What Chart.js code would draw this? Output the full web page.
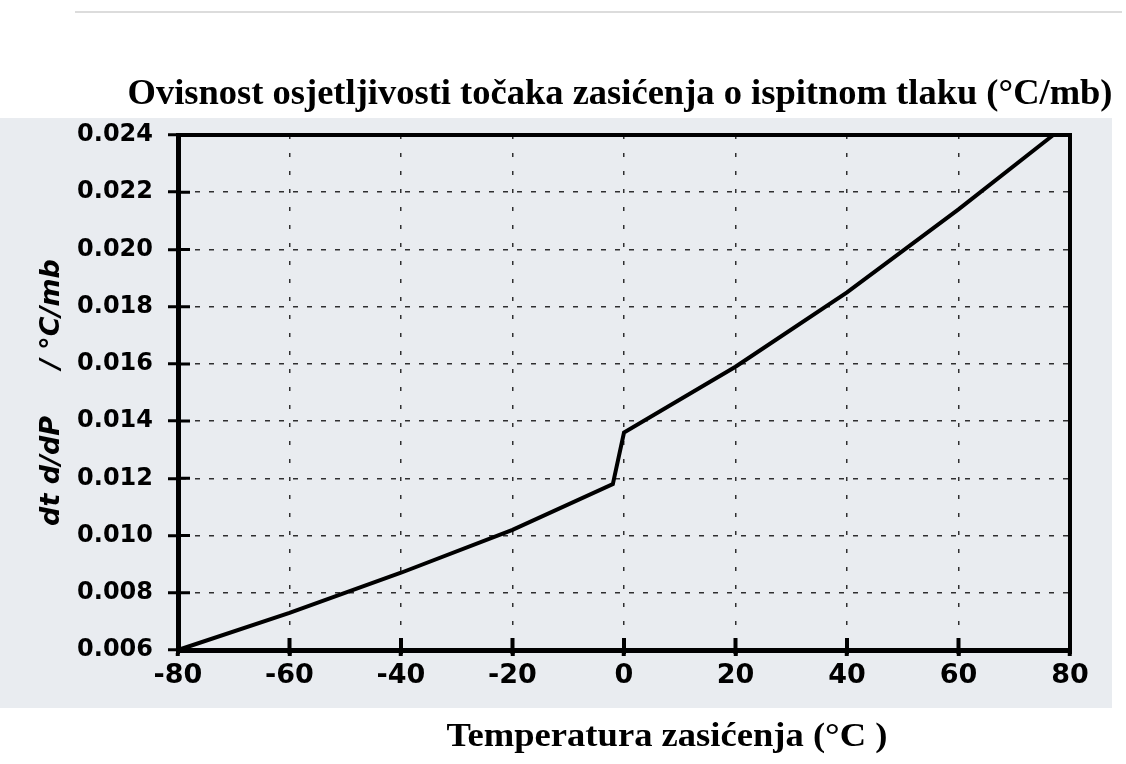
<!DOCTYPE html>
<html>
<head>
<meta charset="utf-8">
<script src="https://cdn.jsdelivr.net/npm/chart.js@4.4.1/dist/chart.umd.min.js"></script>
<style>
  html, body { margin: 0; padding: 0; background: #fff; }
</style>
</head>
<body>
<canvas id="chart" width="1126" height="764"></canvas>
<script>
// values
const temps = [-80, -60, -40, -20, -2, 0, 20, 40, 60, 77]
const sens = [0.006, 0.0073, 0.0087, 0.0102, 0.0118, 0.0136, 0.0159, 0.0185, 0.0214, 0.024]

const xTicks = [-80, -60, -40, -20, 0, 20, 40, 60, 80]
const yTicks = [0.006, 0.008, 0.01, 0.012, 0.014, 0.016, 0.018, 0.02, 0.022, 0.024]

const titleText = "Ovisnost osjetljivosti točaka zasićenja o ispitnom tlaku (°C/mb)"
const xTitleText = "Temperatura zasićenja (°C )"
const yTitleText = "dt d/dP     / °C/mb"

const points = temps.map((t, i) => ({ x: t, y: sens[i] }))

// text squeezed/stretched to the width it has in the scan
function drawText(ctx, text, cx, baseY, font, width) {
  ctx.save()
  ctx.font = font
  ctx.fillStyle = "#000"
  ctx.textAlign = "center"
  ctx.textBaseline = "alphabetic"
  const w = ctx.measureText(text).width
  ctx.translate(cx, baseY)
  ctx.scale(width / w, 1)
  ctx.fillText(text, 0, 0)
  ctx.restore()
}

const paper = {
  id: "paper",
  beforeDraw(chart) {
    const ctx = chart.ctx
    ctx.save()
    ctx.fillStyle = "#ffffff"
    ctx.fillRect(0, 0, chart.width, chart.height)
    ctx.fillStyle = "#e9ecf0"
    ctx.fillRect(0, 118, 1112, 590)
    ctx.strokeStyle = "#dcdcdc"
    ctx.lineWidth = 2
    ctx.beginPath()
    ctx.moveTo(75, 12)
    ctx.lineTo(1122, 12)
    ctx.stroke()
    ctx.restore()
  },
  afterDraw(chart) {
    const ctx = chart.ctx
    const a = chart.chartArea
    const xs = chart.scales.x
    const ys = chart.scales.y
    ctx.save()
    ctx.strokeStyle = "#000"
    ctx.lineWidth = 4
    ctx.strokeRect(a.left, a.top, a.right - a.left, a.bottom - a.top)
    // inner tick stubs
    ctx.lineWidth = 4
    ctx.beginPath()
    xTicks.forEach((v) => {
      const px = xs.getPixelForValue(v)
      ctx.moveTo(px, a.bottom + 4)
      ctx.lineTo(px, a.bottom - 12)
    })
    ctx.stroke()
    ctx.lineWidth = 3
    ctx.beginPath()
    yTicks.forEach((v) => {
      const py = ys.getPixelForValue(v)
      ctx.moveTo(a.left, py)
      ctx.lineTo(a.left + 12, py)
    })
    ctx.stroke()
    ctx.restore()
    drawText(ctx, titleText, 620, 104, "bold 35px 'Liberation Serif'", 985)
    drawText(ctx, xTitleText, 667, 746, "bold 34px 'Liberation Serif'", 441)
  },
}

new Chart(document.getElementById("chart"), {
  type: "scatter",
  data: {
    datasets: [
      {
        data: points,
        showLine: true,
        borderColor: "#000",
        borderWidth: 4,
        pointRadius: 0,
        tension: 0,
        clip: 4,
      },
    ],
  },
  options: {
    responsive: false,
    animation: false,
    devicePixelRatio: 1,
    layout: { padding: { left: 0, right: 56, top: 135, bottom: 0 } },
    plugins: {
      legend: { display: false },
      tooltip: { enabled: false },
      title: { display: false },
    },
    scales: {
      x: {
        type: "linear",
        min: -80,
        max: 80,
        afterBuildTicks: (s) => { s.ticks = xTicks.map((v) => ({ value: v })) },
        afterFit: (s) => { s.height = 114 },
        ticks: {
          color: "#000",
          padding: 4,
          font: { family: "'DejaVu Sans'", size: 27, weight: "bold" },
        },
        grid: {
          color: "rgba(0,0,0,0.8)",
          lineWidth: 1.5,
          tickLength: 6,
          tickWidth: 4,
          tickColor: "#000",
        },
        border: { display: true, color: "#000", width: 5, dash: [4, 14] },
      },
      y: {
        type: "linear",
        min: 0.006,
        max: 0.024,
        afterBuildTicks: (s) => { s.ticks = yTicks.map((v) => ({ value: v })) },
        afterFit: (s) => { s.width = 178 },
        ticks: {
          color: "#000",
          padding: 15,
          font: { family: "'DejaVu Sans'", size: 24, weight: "bold" },
          callback: (v) => v.toFixed(3),
        },
        grid: {
          color: "rgba(0,0,0,0.8)",
          lineWidth: 1.5,
          tickLength: 10,
          tickWidth: 3,
          tickColor: "#000",
        },
        border: { display: true, color: "#000", width: 5, dash: [5, 9] },
        title: {
          display: true,
          text: yTitleText,
          color: "#000",
          padding: { top: 36, bottom: 0 },
          font: { family: "'DejaVu Sans'", size: 27, weight: "bold", style: "italic" },
        },
      },
    },
  },
  plugins: [paper],
})
</script>
</body>
</html>
